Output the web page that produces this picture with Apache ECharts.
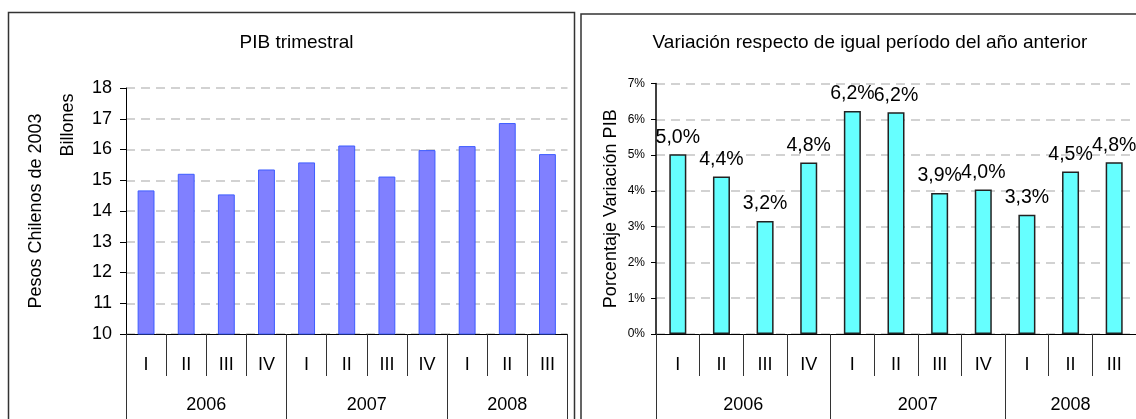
<!DOCTYPE html>
<html>
<head>
<meta charset="utf-8">
<script src="https://cdn.jsdelivr.net/npm/echarts@6/dist/echarts.min.js"></script>
<style>
  html, body { margin: 0; padding: 0; background: #fff; }
  #chart { width: 1136px; height: 419px; }
</style>
</head>
<body>
<div id="chart"></div>
<script>
// quarters and years along the bottom
const quarters = ['I', 'II', 'III', 'IV', 'I', 'II', 'III', 'IV', 'I', 'II', 'III'];
const years = ['2006', '2007', '2008'];
const yearSpans = [4, 4, 3];

// PIB trimestral (billones de pesos de 2003)
const pibValues = [14.67, 15.21, 14.54, 15.35, 15.58, 16.13, 15.12, 15.98, 16.11, 16.86, 15.85];
// variacion respecto de igual periodo del año anterior (%)
const variationValues = [5.02, 4.40, 3.16, 4.79, 6.23, 6.20, 3.94, 4.04, 3.33, 4.54, 4.80];

const FONT = 'Liberation Sans, Arial, sans-serif';

// year boundaries and centres on a 0..n scale
const yearBounds = [0];
const yearCenters = [];
yearSpans.forEach(function (span) {
    const start = yearBounds[yearBounds.length - 1];
    yearCenters.push(start + span / 2);
    yearBounds.push(start + span);
});

function quarterAxis(gridIndex) {
    return {
        gridIndex: gridIndex,
        type: 'category',
        position: 'bottom',
        data: quarters,
        axisLine: { show: true, lineStyle: { color: '#000', width: 1 } },
        axisTick: { show: true, interval: 0, alignWithLabel: false, length: 42, lineStyle: { color: '#333', width: 1 } },
        axisLabel: { interval: 0, margin: 22, color: '#000', fontSize: 18, fontFamily: FONT }
    };
}

function yearAxis(gridIndex) {
    return {
        gridIndex: gridIndex,
        type: 'value',
        position: 'bottom',
        offset: 0,
        min: 0,
        max: quarters.length,
        axisLine: { show: false },
        splitLine: { show: false },
        axisTick: { show: true, customValues: yearBounds, length: 90, lineStyle: { color: '#333', width: 1 } },
        axisLabel: {
            customValues: yearCenters,
            margin: 62,
            color: '#000',
            fontSize: 18,
            fontFamily: FONT,
            formatter: function (v) {
                const i = yearCenters.indexOf(v);
                return i >= 0 ? years[i] : '';
            }
        }
    };
}

const gridLine = { show: true, lineStyle: { color: '#c4c4c4', width: 1.5, type: [9, 6] } };

const chart = echarts.init(document.getElementById('chart'));

const option = {
    animation: false,
    textStyle: { fontFamily: FONT },
    title: [
        {
            text: 'PIB trimestral',
            left: 291.5,
            top: 28,
            textAlign: 'center',
            textStyle: { fontSize: 19, fontWeight: 'normal', color: '#000', fontFamily: FONT }
        },
        {
            text: 'Variación respecto de igual período del año anterior',
            left: 865,
            top: 28,
            textAlign: 'center',
            textStyle: { fontSize: 19, fontWeight: 'normal', color: '#000', fontFamily: FONT }
        }
    ],
    grid: [
        { left: 126, top: 88, width: 441.5, height: 246 },
        { left: 656, top: 83.5, width: 484, height: 250.5 }
    ],
    xAxis: [quarterAxis(0), yearAxis(0), quarterAxis(1), yearAxis(1)],
    yAxis: [
        {
            gridIndex: 0,
            type: 'value',
            min: 10,
            max: 18,
            interval: 1,
            name: 'Pesos Chilenos de 2003',
            nameLocation: 'middle',
            nameGap: 81,
            nameTextStyle: { fontSize: 18, color: '#000', fontFamily: FONT },
            axisLine: { show: true, lineStyle: { color: '#000', width: 1 } },
            axisTick: { show: true, length: 6, lineStyle: { color: '#000' } },
            axisLabel: { margin: 14, color: '#000', fontSize: 18, fontFamily: FONT },
            splitLine: gridLine
        },
        {
            gridIndex: 1,
            type: 'value',
            min: 0,
            max: 7,
            interval: 1,
            name: 'Porcentaje Variación PIB',
            nameLocation: 'middle',
            nameGap: 36,
            nameTextStyle: { fontSize: 18, color: '#000', fontFamily: FONT },
            axisLine: { show: true, lineStyle: { color: '#000', width: 1.5 } },
            axisTick: { show: true, length: 5, lineStyle: { color: '#000' } },
            axisLabel: { margin: 11, color: '#000', fontSize: 12, fontFamily: FONT, formatter: '{value}%' },
            splitLine: gridLine
        }
    ],
    graphic: [
        {
            type: 'rect',
            shape: { x: 8.5, y: 12.5, width: 566, height: 430 },
            style: { fill: 'none', stroke: '#333', lineWidth: 1.5 },
            z: 100
        },
        {
            type: 'rect',
            shape: { x: 581, y: 14, width: 620, height: 430 },
            style: { fill: 'none', stroke: '#333', lineWidth: 1.5 },
            z: 100
        },
        {
            type: 'text',
            x: 68,
            y: 125,
            rotation: Math.PI / 2,
            style: { text: 'Billones', font: '18px ' + FONT, fill: '#000', textAlign: 'center', textVerticalAlign: 'middle' }
        }
    ],
    series: [
        {
            name: 'PIB trimestral',
            type: 'bar',
            xAxisIndex: 0,
            yAxisIndex: 0,
            barWidth: '42%',
            itemStyle: { color: '#8080ff', borderColor: '#3d5cff', borderWidth: 1 },
            data: pibValues
        },
        {
            name: 'Variación',
            type: 'bar',
            xAxisIndex: 2,
            yAxisIndex: 1,
            barWidth: '39%',
            itemStyle: { color: '#66ffff', borderColor: '#222', borderWidth: 1.5 },
            label: {
                show: true,
                position: 'top',
                distance: 7,
                color: '#000',
                fontSize: 19.5,
                fontFamily: FONT,
                formatter: function (p) {
                    return p.value.toFixed(1).replace('.', ',') + '%';
                }
            },
            data: variationValues
        }
    ]
};

chart.setOption(option);
</script>
</body>
</html>
